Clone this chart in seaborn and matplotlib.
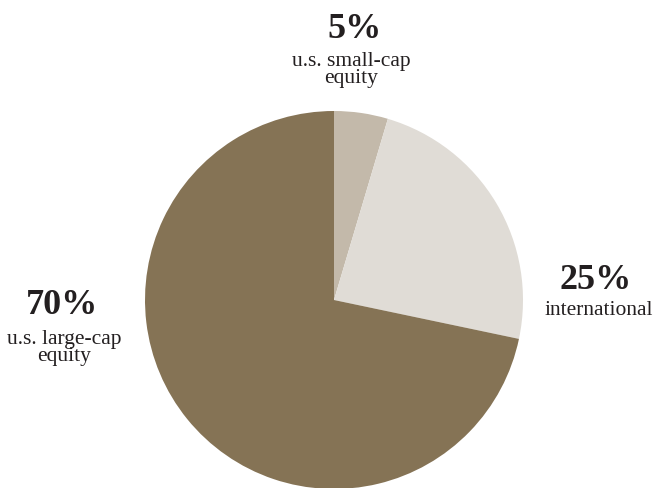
import matplotlib
matplotlib.use("Agg")
import matplotlib.pyplot as plt
import seaborn as sns

categories = ["u.s. small-cap\nequity", "international", "u.s. large-cap\nequity"]
values = [4.6, 23.7, 71.7]          # wedge sizes as drawn in the picture
pct_labels = ["5%", "25%", "70%"]
colors = ["#c3b9aa", "#e0dcd6", "#857355"]

sns.set_theme(style="white")
plt.rcParams['font.family'] = ['Liberation Serif', 'DejaVu Serif']

W, H = 664, 489
fig = plt.figure(figsize=(W / 100, H / 100), dpi=100)
ax = fig.add_axes([0, 0, 1, 1])

ax.pie(values, colors=colors, startangle=90, counterclock=False,
       center=(334, H - 301), radius=189,
       wedgeprops=dict(linewidth=0))
ax.set_xlim(0, W)
ax.set_ylim(0, H)
ax.set_aspect("equal")
ax.axis("off")

txt = "#231f20"
pos = [  # (x pct, y pct, x label, y label) in pixels from top
    (355, 30, 351, 70),
    (596, 281, 599, 311),
    (62, 306, 64, 348),
]
for (xp, yp, xl, yl), p, c in zip(pos, pct_labels, categories):
    ax.text(xp, H - yp, p, ha="center", va="center", fontsize=26,
            fontweight="bold", color=txt)
    ax.text(xl, H - yl, c, ha="center", va="center", fontsize=15.5,
            color=txt, linespacing=0.88)

fig.savefig("out.png", dpi=100)
